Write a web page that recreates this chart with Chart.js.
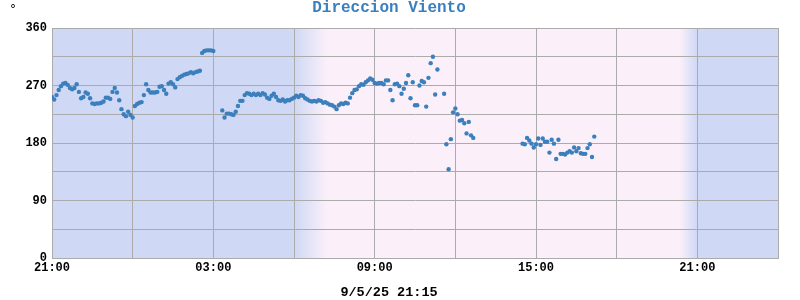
<!DOCTYPE html>
<html>
<head>
<meta charset="utf-8">
<script src="https://cdn.jsdelivr.net/npm/chart.js@4/dist/chart.umd.min.js"></script>
<style>
  html, body { margin: 0; padding: 0; background: #fff; }
  #wrap { width: 800px; height: 300px; }
</style>
</head>
<body>
<div id="wrap"><canvas id="vientoChart" width="800" height="300"></canvas></div>
<script>
// readings every 5 minutes starting at 21:00 (null = no reading)
const stepMinutes = 5;
const direccion = [
  252, 248, 255, 263, 269, 273, 274, 271, 266, 264,
  266, 272, 260, 250, 252, 259, 257, 250, 242, 241,
  242, 242, 243, 245, 251, 251, 249, 260, 266, 259,
  247, 233, 225, 222, 229, 224, 220, 238, 241, 243,
  244, 255, 272, 263, 259, 259, 259, 260, 268, 269,
  263, 257, 273, 275, 272, 267, 280, 283, 285, 287,
  288, 289, 291, 289, 291, 292, 293,
  321, 324, 325, 325, 325, 324,
  null, null, null,
  231, 220, 226, 226, 225, 224, 229, 238, 246, 246,
  255, 258, 257, 255, 257, 255, 257, 255, 258, 256,
  251, 249, 254, 257, 252, 247, 246, 248, 245, 247,
  247, 249, 251, 254, 252, 255, 254, 250, 248, 246,
  245, 246, 245, 247, 246, 243, 244, 242, 240, 239,
  237, 233, 239, 242, 241, 243, 242, 251, 258, 263,
  264, 269, 272, 271, 275, 278, 281, 279, 274, 273,
  274, 274, 272, 278, 278, 263, 247, 272, 273, 269,
  257, 265, 274, 286, 250, 275, 239, 239, 270, 277,
  275, 237, 282, 305, 315, 256, 295,
  null, null,
  257, 178, 139, 186, 228, 234, 225, 215, 216, 211,
  195, 213, 192, 188,
  null, null, null, null, null, null, null, null, null, null,
  null, null, null, null, null, null, null, null, null, null,
  null,
  179, 178, 188, 184, 179, 173, 178, 187, 177, 187,
  182, 182, 165, 185, 179, 155, 185, 163, 163, 162,
  165, 167, 165, 173, 167, 172, 164, 163, 163, 172,
  178, 158, 190
];
const xTickLabels = ['21:00', '03:00', '09:00', '15:00', '21:00'];
const yTickLabels = ['0', '90', '180', '270', '360'];

const nightColor = 'rgb(207,216,245)';
const dayColor = 'rgb(251,240,250)';

// night / day shading behind the points
const dayNightBackground = {
  id: 'dayNightBackground',
  beforeDraw(chart) {
    const { ctx, chartArea: a, scales: { x } } = chart;
    const w = a.right - a.left;
    const f = m => (x.getPixelForValue(m) - a.left) / w;
    const g = ctx.createLinearGradient(a.left, 0, a.right, 0);
    g.addColorStop(0, nightColor);
    g.addColorStop(f(540), nightColor);
    g.addColorStop(f(615), dayColor);
    g.addColorStop(f(1400), dayColor);
    g.addColorStop(f(1440), nightColor);
    g.addColorStop(1, nightColor);
    ctx.save();
    ctx.fillStyle = g;
    ctx.fillRect(a.left, a.top, w, a.bottom - a.top);
    ctx.restore();
  },
  afterDraw(chart) {
    const ctx = chart.ctx;
    ctx.save();
    ctx.font = '12px "DejaVu Sans"';
    ctx.fillStyle = '#000';
    ctx.textBaseline = 'alphabetic';
    ctx.fillText('°', 10, 13);
    ctx.restore();
  }
};

const monoFont = '"Liberation Mono", "Courier New", monospace';

new Chart(document.getElementById('vientoChart'), {
  type: 'scatter',
  data: {
    datasets: [{
      label: 'Direccion Viento',
      data: direccion.map((v, i) => ({ x: i * stepMinutes, y: v })),
      showLine: false,
      pointRadius: 2.2,
      pointBorderWidth: 0,
      pointBackgroundColor: '#3b7fbc',
      pointBorderColor: '#3b7fbc'
    }]
  },
  options: {
    responsive: false,
    animation: false,
    layout: { padding: { left: 0, right: 22, top: 0, bottom: 0 } },
    plugins: {
      legend: { display: false },
      tooltip: { enabled: false },
      title: {
        display: true,
        text: 'Direccion Viento',
        color: '#3a7fc0',
        font: { family: monoFont, size: 16, weight: 'bold', lineHeight: 1 },
        padding: { top: 0, bottom: 12 }
      },
      subtitle: {
        display: true,
        position: 'bottom',
        text: '9/5/25 21:15',
        color: '#000',
        font: { family: monoFont, size: 13.5, weight: 'bold', lineHeight: 1 },
        padding: { top: 0, bottom: 1 }
      }
    },
    scales: {
      x: {
        type: 'linear',
        min: 0,
        max: 1620,
        afterFit(scale) { scale.height = 27.5; },
        grid: { color: '#ababab', lineWidth: 1, drawTicks: false },
        border: { color: '#ababab' },
        ticks: {
          stepSize: 180,
          autoSkip: false,
          maxRotation: 0,
          padding: 3,
          color: '#000',
          font: { family: monoFont, size: 12, weight: 'bold' },
          callback: v => (v % 360 === 0 ? xTickLabels[v / 360] : '')
        }
      },
      y: {
        min: 0,
        max: 360,
        afterFit(scale) { scale.width = 52; },
        grid: { color: '#ababab', lineWidth: 1, drawTicks: false },
        border: { color: '#ababab' },
        ticks: {
          stepSize: 45,
          autoSkip: false,
          padding: 5,
          color: '#000',
          font: { family: monoFont, size: 12, weight: 'bold' },
          callback: v => (v % 90 === 0 ? yTickLabels[v / 90] : '')
        }
      }
    }
  },
  plugins: [dayNightBackground]
});
</script>
</body>
</html>
